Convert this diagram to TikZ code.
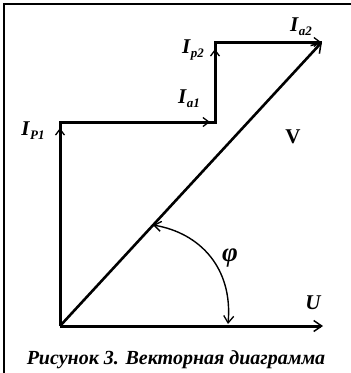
\documentclass[tikz,border=0pt]{standalone}
\usepackage{fontspec}
\setmainfont{Liberation Serif}
\usetikzlibrary{arrows.meta}
\newcommand{\Isb}[1]{I\kern0.5pt\raisebox{-0.4ex}{\fontsize{13}{13}\selectfont #1}}
\begin{document}
\begin{tikzpicture}[x=1pt,y=-1pt,
  vec/.style={line width=3pt, line join=miter},
  tipa/.style={-{Straight Barb[length=6pt,width=9pt,line width=1.3pt]}},
  lbl/.style={font=\fontsize{21}{21}\selectfont\bfseries\itshape, inner sep=0pt}]
\useasboundingbox (0,0) rectangle (351,373);
% frame
\draw[line width=1.5pt] (4,373) -- (4,4) -- (351,4);
% points
\coordinate (O) at (60,326);
\coordinate (A) at (60,122);
\coordinate (B) at (215,122);
\coordinate (C) at (215,42);
\coordinate (D) at (322,42);
\coordinate (Ue) at (323,326);
% step polyline
\draw[vec] (O) -- (A) -- (B) -- (C) -- (D);
% corner arrowheads
\draw[line width=1.2pt, tipa] ([yshift=-18pt]A) -- ([yshift=-6pt]A);
\draw[line width=1.2pt, tipa] ([xshift=-18pt]B) -- ([xshift=-5pt]B);
\draw[line width=1.2pt, tipa] ([yshift=-20pt]C) -- ([yshift=-7pt]C);
\draw[line width=1.2pt, tipa] ([xshift=-18pt]D) -- ([xshift=-1pt]D);
% V vector
\draw[line width=2.6pt, -{Straight Barb[length=9pt,width=12pt,line width=1.5pt]}] (O) -- (D);
% U axis
\draw[line width=3pt, -{Straight Barb[length=8pt,width=11pt,line width=1.5pt]}] (O) -- (Ue);
% angle arc
\coordinate (Ps) at (153,225);
\coordinate (Pe) at (228,324);
\draw[line width=1.4pt, {Straight Barb[length=7pt,width=10pt,line width=1.3pt]}-{Straight Barb[length=7pt,width=10pt,line width=1.3pt]}]
  (Ps) .. controls (200,233) and (233,268) .. (Pe);
% labels
\node[lbl] (lP1) at (33,131) {\Isb{P1}};
\node[lbl] (la1) at (189,99) {\Isb{a1}};
\node[lbl] (lp2) at (193,50) {\Isb{p2}};
\node[lbl] (la2) at (301,27) {\Isb{a2}};
\node[font=\fontsize{21}{21}\selectfont\bfseries, inner sep=0pt] (lV) at (293,137) {V};
\node[inner sep=0pt, font=\fontsize{27}{27}\selectfont\bfseries\itshape] (lphi) at (230,258) {φ};
\node[lbl] (lU) at (313,303) {U};
\node[font=\fontsize{20}{20}\selectfont\bfseries\itshape, inner sep=0pt] (cap) at (176,360) {Рисунок 3. Векторная диаграмма};
\end{tikzpicture}
\end{document}
